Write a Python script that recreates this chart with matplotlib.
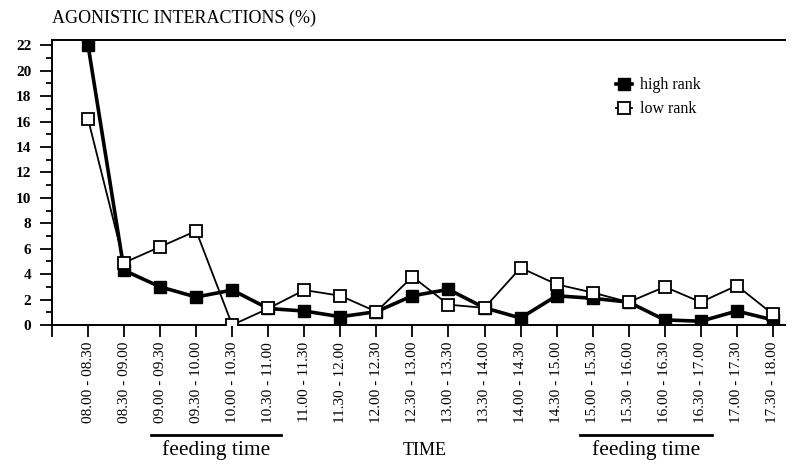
import numpy as np
import matplotlib.pyplot as plt
from matplotlib.ticker import MultipleLocator

intervals = ["08.00 - 08.30", "08.30 - 09.00", "09.00 - 09.30", "09.30 - 10.00",
             "10.00 - 10.30", "10.30 - 11.00", "11.00 - 11.30", "11.30 - 12.00",
             "12.00 - 12.30", "12.30 - 13.00", "13.00 - 13.30", "13.30 - 14.00",
             "14.00 - 14.30", "14.30 - 15.00", "15.00 - 15.30", "15.30 - 16.00",
             "16.00 - 16.30", "16.30 - 17.00", "17.00 - 17.30", "17.30 - 18.00"]
high_rank = [22.0, 4.3, 3.0, 2.2, 2.75, 1.3, 1.1, 0.65, 1.05, 2.3,
             2.8, 1.35, 0.55, 2.3, 2.1, 1.8, 0.4, 0.3, 1.1, 0.4]
low_rank = [16.2, 4.9, 6.15, 7.4, 0.0, 1.3, 2.75, 2.3, 1.05, 3.8,
            1.6, 1.35, 4.5, 3.2, 2.55, 1.8, 3.0, 1.8, 3.1, 0.85]

plt.rcParams["font.family"] = "Liberation Serif"

fig = plt.figure(figsize=(8, 4.62), dpi=100)
ax = fig.add_axes([0.065, 0.2965, 0.916, 0.6165])

x = np.arange(1, len(intervals) + 1)
ax.plot(x, high_rank, color="black", lw=2.6, marker="s", ms=8,
        mfc="black", mec="black", label="high rank", zorder=3)
ax.plot(x, low_rank, color="black", lw=1.3, marker="s", ms=8,
        mfc="white", mec="black", mew=1.3, label="low rank", zorder=4)

ax.set_xlim(0, 20.33)
ax.set_ylim(0, 22.4)
ax.set_xticks(np.arange(0, 21))
ax.set_xticklabels([""] + intervals, rotation=90, fontsize=11)
ax.yaxis.set_major_locator(MultipleLocator(2))
ax.yaxis.set_minor_locator(MultipleLocator(1))
ax.tick_params(axis="y", which="major", length=9, width=1.3, labelsize=11, pad=6)
ax.tick_params(axis="y", which="minor", length=4.5, width=1.3)
ax.tick_params(axis="x", length=8.6, width=1.3, pad=3.5)
for lab in ax.get_yticklabels():
    lab.set_fontweight("bold")

ax.spines["right"].set_visible(False)
for s in ["left", "bottom", "top"]:
    ax.spines[s].set_linewidth(1.4)

ax.text(0.0, 1.06, "AGONISTIC INTERACTIONS (%)", transform=ax.transAxes,
        fontsize=13, ha="left", va="baseline")

ax.legend(loc="upper left", bbox_to_anchor=(0.75, 0.92), frameon=False,
          handlelength=1.0, handletextpad=0.5, fontsize=11.5, labelspacing=0.5)

trans = ax.get_xaxis_transform()
for x0, x1 in [(2.75, 6.35), (14.65, 18.3)]:
    ax.plot([x0, x1], [-0.386, -0.386], color="black", lw=2, transform=trans, clip_on=False)
    ax.text((x0 + x1) / 2, -0.44, "feeding time", transform=trans,
            ha="center", va="center", fontsize=15.5)
ax.text(10.35, -0.44, "TIME", transform=trans, ha="center", va="center", fontsize=13)

fig.savefig("out.png", dpi=100)
